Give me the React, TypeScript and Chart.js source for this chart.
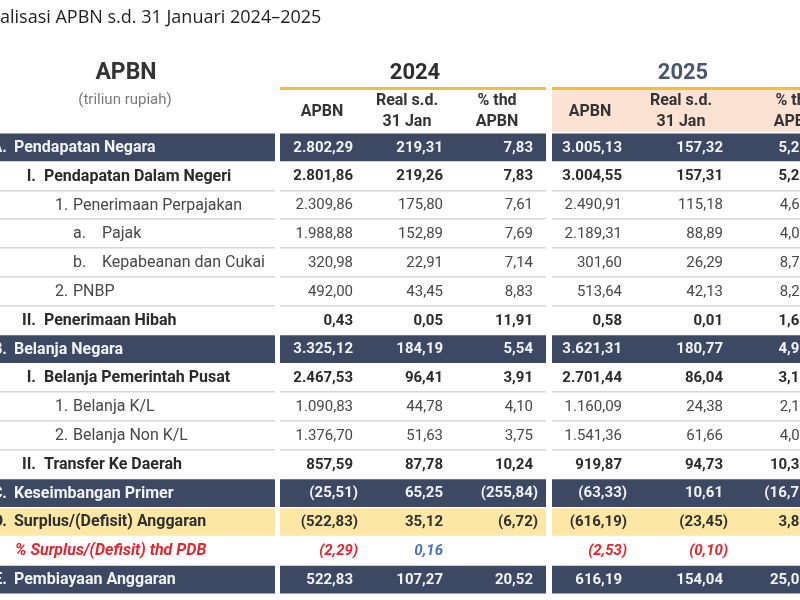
import React, { useEffect, useRef } from 'react';
import { Chart, registerables } from 'chart.js';

Chart.register(...registerables);

// ---------- data ----------
const rowPrefixes = ['A.', 'I.', '1.', 'a.', 'b.', '2.', 'II.', 'B.', 'I.', '1.', '2.', 'II.', 'C.', 'D.', '', 'E.'];
const rowNames = [
  'Pendapatan Negara',
  'Pendapatan Dalam Negeri',
  'Penerimaan Perpajakan',
  'Pajak',
  'Kepabeanan dan Cukai',
  'PNBP',
  'Penerimaan Hibah',
  'Belanja Negara',
  'Belanja Pemerintah Pusat',
  'Belanja K/L',
  'Belanja Non K/L',
  'Transfer Ke Daerah',
  'Keseimbangan Primer',
  'Surplus/(Defisit) Anggaran',
  '% Surplus/(Defisit) thd PDB',
  'Pembiayaan Anggaran',
];
const rowLevels = [0, 1, 2, 3, 3, 2, 1, 0, 1, 2, 2, 1, 0, 0, 0, 0];
const rowKinds = ['dark', 'bold', 'normal', 'normal', 'normal', 'normal', 'bold', 'dark', 'bold', 'normal', 'normal', 'bold', 'dark', 'yellow', 'pdb', 'dark'];

const apbn2024 = [2802.29, 2801.86, 2309.86, 1988.88, 320.98, 492.0, 0.43, 3325.12, 2467.53, 1090.83, 1376.7, 857.59, -25.51, -522.83, -2.29, 522.83];
const real2024 = [219.31, 219.26, 175.8, 152.89, 22.91, 43.45, 0.05, 184.19, 96.41, 44.78, 51.63, 87.78, 65.25, 35.12, 0.16, 107.27];
const pct2024 = [7.83, 7.83, 7.61, 7.69, 7.14, 8.83, 11.91, 5.54, 3.91, 4.1, 3.75, 10.24, -255.84, -6.72, null, 20.52];
const apbn2025 = [3005.13, 3004.55, 2490.91, 2189.31, 301.6, 513.64, 0.58, 3621.31, 2701.44, 1160.09, 1541.36, 919.87, -63.33, -616.19, -2.53, 616.19];
const real2025 = [157.32, 157.31, 115.18, 88.89, 26.29, 42.13, 0.01, 180.77, 86.04, 24.38, 61.66, 94.73, 10.61, -23.45, -0.1, 154.04];
const pct2025 = [5.23, 5.24, 4.62, 4.06, 8.72, 8.2, 1.64, 4.99, 3.18, 2.1, 4.0, 10.3, -16.75, 3.81, null, 25.0];

const yearLabels = ['2024', '2025'];
const subHeaders = [['APBN'], ['Real s.d.', '31 Jan'], ['% thd', 'APBN']];
const titleText = 'Realisasi APBN s.d. 31 Januari 2024–2025';
const titleCut = 'Re';
const stubTitle = 'APBN';
const stubSubtitle = '(triliun rupiah)';

// ---------- layout / style ----------
const GROUPS = [[0, 275], [280, 546], [552, 818]];
const COL_RIGHT = [353, 443, 533, 622, 723, 808];
const COL_CENTER = [322, 407, 497, 590, 681, 795];
const YEAR_CENTER = [415, 683];
const DARK = '#3d4962';
const YELLOW = '#fde7a5';
const FONT = 'Roboto, "DejaVu Sans", sans-serif';

function fmt(v: number | null): string {
  if (v === null || v === undefined) return '';
  const abs = Math.abs(v);
  const [ip, dp] = abs.toFixed(2).split('.');
  const withDots = ip.replace(/\B(?=(\d{3})+(?!\d))/g, '.');
  const s = withDots + ',' + dp;
  return v < 0 ? '(' + s + ')' : s;
}

const tablePlugin = {
  id: 'tableText',
  beforeDatasetsDraw(chart: any) {
    const ctx = chart.ctx;
    const xs = chart.scales.x;
    ctx.save();
    ctx.fillStyle = '#fce2d3';
    const x0 = xs.getPixelForValue(GROUPS[2][0]);
    const x1 = xs.getPixelForValue(GROUPS[2][1]);
    ctx.fillRect(x0, 90, x1 - x0, 42);
    ctx.restore();
  },
  afterDatasetsDraw(chart: any) {
    const ctx: CanvasRenderingContext2D = chart.ctx;
    const xs = chart.scales.x;
    const ys = chart.scales.y;
    const px = (v: number) => xs.getPixelForValue(v);
    const py = (i: number) => ys.getPixelForValue(i);
    ctx.save();
    ctx.textBaseline = 'middle';

    // title
    ctx.font = `500 18px "Open Sans", ${FONT}`;
    ctx.fillStyle = '#1e1e1e';
    ctx.textAlign = 'left';
    const cutW = ctx.measureText(titleCut).width;
    ctx.fillText(titleText, -cutW, 18);

    // stub header
    ctx.textAlign = 'center';
    ctx.font = `bold 23px ${FONT}`;
    ctx.fillStyle = '#333';
    ctx.fillText(stubTitle, px(126), 73);
    ctx.font = `15px ${FONT}`;
    ctx.fillStyle = '#7a7a7a';
    ctx.fillText(stubSubtitle, px(125), 100);

    // year headers
    ctx.font = `bold 22px ${FONT}`;
    yearLabels.forEach((yl, k) => {
      ctx.fillStyle = k === 0 ? '#2e2e2e' : '#4a566e';
      ctx.fillText(yl, px(YEAR_CENTER[k]), 73);
      ctx.fillStyle = '#f2c22e';
      const g = GROUPS[k + 1];
      ctx.fillRect(px(g[0]), 87, px(g[1]) - px(g[0]), 3);
    });

    // sub headers
    ctx.font = `bold 16px ${FONT}`;
    ctx.fillStyle = '#333';
    for (let k = 0; k < 6; k++) {
      const lines = subHeaders[k % 3];
      const cx = px(COL_CENTER[k]);
      if (lines.length === 1) ctx.fillText(lines[0], cx, 112);
      else {
        ctx.fillText(lines[0], cx, 101);
        ctx.fillText(lines[1], cx, 122);
      }
    }

    // separators between white rows
    ctx.fillStyle = '#d6d6d6';
    const isWhite = (k: string) => k === 'bold' || k === 'normal' || k === 'pdb';
    for (let i = 0; i < rowNames.length - 1; i++) {
      if (isWhite(rowKinds[i]) && isWhite(rowKinds[i + 1])) {
        const yb = Math.round((py(i) + py(i + 1)) / 2);
        GROUPS.forEach((g) => {
          ctx.fillRect(px(g[0]), yb - 1, px(g[1]) - px(g[0]), 1.5);
        });
      }
    }

    // rows
    const cols = [apbn2024, real2024, pct2024, apbn2025, real2025, pct2025];
    for (let i = 0; i < rowNames.length; i++) {
      const kind = rowKinds[i];
      const yc = py(i) + 0.5;
      let labelFont = `16px ${FONT}`;
      let valueFont = `15px ${FONT}`;
      let color = '#474747';
      if (kind === 'dark') { labelFont = `bold 16px ${FONT}`; valueFont = `bold 15px ${FONT}`; color = '#f1f3f7'; }
      else if (kind === 'bold') { labelFont = `bold 16px ${FONT}`; valueFont = `bold 15px ${FONT}`; color = '#2a2a2a'; }
      else if (kind === 'yellow') { labelFont = `bold 16px ${FONT}`; valueFont = `bold 15px ${FONT}`; color = '#2f2f2f'; }
      else if (kind === 'pdb') { labelFont = `italic bold 16px ${FONT}`; valueFont = `italic bold 15px ${FONT}`; color = '#e3262f'; }
      ctx.font = labelFont;
      ctx.fillStyle = color;

      const lvl = rowLevels[i];
      const pre = rowPrefixes[i];
      if (kind === 'pdb') {
        ctx.textAlign = 'left';
        ctx.fillText(rowNames[i], px(15), yc);
      } else if (lvl === 0) {
        ctx.textAlign = 'right';
        ctx.fillText(pre, px(7), yc);
        ctx.textAlign = 'left';
        ctx.fillText(rowNames[i], px(14), yc);
      } else if (lvl === 1) {
        ctx.textAlign = 'right';
        ctx.fillText(pre, px(36), yc);
        ctx.textAlign = 'left';
        ctx.fillText(rowNames[i], px(44), yc);
      } else if (lvl === 2) {
        ctx.textAlign = 'left';
        ctx.fillText(pre, px(55), yc);
        ctx.fillText(rowNames[i], px(73), yc);
      } else {
        ctx.textAlign = 'left';
        ctx.fillText(pre, px(73), yc);
        ctx.fillText(rowNames[i], px(102), yc);
      }

      ctx.font = valueFont;
      ctx.textAlign = 'right';
      cols.forEach((col, c) => {
        const v = col[i] as number | null;
        if (v === null) return;
        const s = fmt(v);
        if (kind === 'pdb') ctx.fillStyle = v < 0 ? '#e3262f' : '#4d72b4';
        const shift = v < 0 ? 5 : 0;
        ctx.fillText(s, px(COL_RIGHT[c] + shift), yc);
      });
    }
    ctx.restore();
  },
};

export default function App() {
  const ref = useRef<HTMLCanvasElement | null>(null);
  useEffect(() => {
    document.body.style.margin = '0';
    document.body.style.background = '#ffffff';
    const canvas = ref.current;
    if (!canvas) return;
    const bandColors = rowKinds.map((k) => (k === 'dark' ? DARK : k === 'yellow' ? YELLOW : 'rgba(0,0,0,0)'));
    const datasets = GROUPS.map((g, gi) => ({
      label: 'group' + gi,
      data: rowNames.map(() => [g[0], g[1]]),
      backgroundColor: bandColors,
      borderWidth: 0,
      borderSkipped: false,
      grouped: false,
      barPercentage: 0.96,
      categoryPercentage: 1,
    }));
    const chart = new Chart(canvas, {
      type: 'bar',
      data: { labels: rowNames, datasets: datasets as any },
      options: {
        indexAxis: 'y',
        animation: false,
        responsive: false,
        maintainAspectRatio: false,
        layout: { padding: { top: 133, bottom: 6, left: 0, right: 0 } },
        scales: {
          x: { type: 'linear', min: 0, max: 800, display: false },
          y: { type: 'category', display: false, offset: true },
        },
        plugins: { legend: { display: false }, tooltip: { enabled: false } },
        events: [],
      },
      plugins: [tablePlugin],
    });
    return () => chart.destroy();
  }, []);
  return <canvas ref={ref} width={800} height={600} style={{ display: 'block' }} />;
}
